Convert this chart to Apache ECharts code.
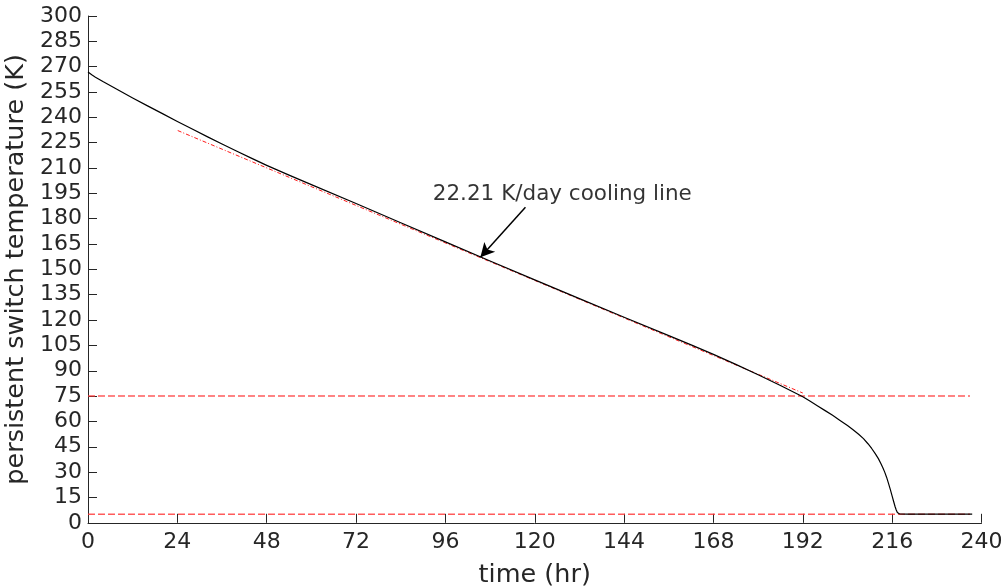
<!DOCTYPE html>
<html>
<head>
<meta charset="utf-8">
<script src="https://cdn.jsdelivr.net/npm/echarts@6/dist/echarts.min.js"></script>
<style>
  html, body { margin: 0; padding: 0; background: #fff; }
  #chart { width: 1005px; height: 588px; }
</style>
</head>
<body>
<div id="chart"></div>
<script>
// Switch temperature during cooldown (hours, kelvin)
const timeHr = [0, 1, 2, 4, 8, 12, 16, 20, 24, 28, 32, 36, 40, 44, 48, 54, 60, 72, 84, 96, 108, 120, 132, 144, 156, 162, 168, 174, 180, 186, 192, 194, 196, 198, 200, 202, 204, 205.5, 207, 208.3, 209.5, 210.5, 211.5, 212.3, 213, 213.5, 214, 214.5, 215, 215.5, 216, 216.4, 216.8, 217.1, 217.4, 217.7, 218, 220, 237.5];
const tempK  = [266.8, 265.2, 263.8, 261.2, 256.3, 251.5, 246.8, 242.2, 237.6, 233.1, 228.6, 224.2, 219.9, 215.7, 211.6, 205.8, 200.2, 189.0, 177.6, 166.3, 155.0, 143.8, 132.7, 121.7, 110.8, 105.3, 99.7, 93.8, 87.6, 81.3, 74.6, 71.9, 69.2, 66.4, 63.6, 60.6, 57.6, 55.1, 52.4, 49.8, 46.8, 44, 40.8, 38, 35, 32.6, 30, 27, 23.5, 19.8, 15.8, 12.6, 9.5, 7.6, 6.1, 5.5, 5.2, 5.1, 5.1];

// Linear cooling fit
const coolingRate = 22.21;          // K/day
const fitStart = [24.1, 232.2];     // hr, K
const fitEndHr = 192;

// Reference levels (K) and their extent (hr)
const refLevels = [75, 5];
const refEndHr = 236.9;

// Axis ticks
const xTicks = { min: 0, max: 240, step: 24 };
const yTicks = { min: 0, max: 300, step: 15 };

// Annotation
const noteText = '22.21 K/day cooling line';
const noteAt = [127.4, 194.2];
const arrowFrom = [117.5, 186.8];
const arrowTo = [105.4, 157.2];

const curve = timeHr.map((t, i) => [t, tempK[i]]);
const fitLine = [
  fitStart,
  [fitEndHr, fitStart[1] - coolingRate / 24 * (fitEndHr - fitStart[0])]
];

const axisColor = '#262626';
const font = 'DejaVu Sans';

const chart = echarts.init(document.getElementById('chart'), null, { renderer: 'canvas' });

const series = [];
refLevels.forEach(lv => {
  series.push({
    type: 'line',
    data: [[0, lv], [refEndHr, lv]],
    symbol: 'none',
    silent: true,
    lineStyle: { color: 'rgba(255,50,50,0.8)', width: 1.5, type: [7, 3] },
    z: 2
  });
});
series.push({
  type: 'line',
  data: fitLine,
  symbol: 'none',
  silent: true,
  lineStyle: { color: '#ff1a1a', width: 1, type: [4, 2, 1, 2] },
  z: 3
});
series.push({
  type: 'line',
  data: curve,
  symbol: 'none',
  smooth: false,
  silent: true,
  lineStyle: { color: '#000', width: 1.2, join: 'round' },
  z: 4,
  markLine: {
    silent: true,
    symbol: ['none', 'arrow'],
    symbolSize: [11, 14],
    lineStyle: { color: '#000', width: 1.5, type: 'solid' },
    label: { show: false },
    data: [[{ coord: arrowFrom }, { coord: arrowTo }]]
  }
});
series.push({
  type: 'scatter',
  data: [noteAt],
  symbolSize: 0,
  silent: true,
  label: {
    show: true,
    position: 'inside',
    formatter: noteText,
    color: '#000',
    fontFamily: font,
    fontSize: 21.5
  },
  z: 5
});

chart.setOption({
  animation: false,
  backgroundColor: '#fff',
  grid: {
    left: 88, right: 23.5, top: 16, bottom: 65.2,
    containLabel: false,
    outerBoundsMode: 'none'
  },
  xAxis: {
    type: 'value',
    min: xTicks.min, max: xTicks.max, interval: xTicks.step,
    name: 'time (hr)',
    nameLocation: 'middle',
    nameGap: 40,
    nameTextStyle: { color: axisColor, fontFamily: font, fontSize: 25.5 },
    axisLine: { show: true, lineStyle: { color: axisColor, width: 1 } },
    axisTick: { show: true, inside: true, length: 9, lineStyle: { color: axisColor } },
    axisLabel: { color: axisColor, fontFamily: font, fontSize: 22, margin: 8 },
    splitLine: { show: false }
  },
  yAxis: {
    type: 'value',
    min: yTicks.min, max: yTicks.max, interval: yTicks.step,
    name: 'persistent switch temperature (K)',
    nameLocation: 'middle',
    nameGap: 54,
    nameTextStyle: { color: axisColor, fontFamily: font, fontSize: 25.5 },
    axisLine: { show: true, lineStyle: { color: axisColor, width: 1 } },
    axisTick: { show: true, inside: true, length: 9, lineStyle: { color: axisColor } },
    axisLabel: { color: axisColor, fontFamily: font, fontSize: 22, margin: 6 },
    splitLine: { show: false }
  },
  series: series
});
</script>
</body>
</html>
